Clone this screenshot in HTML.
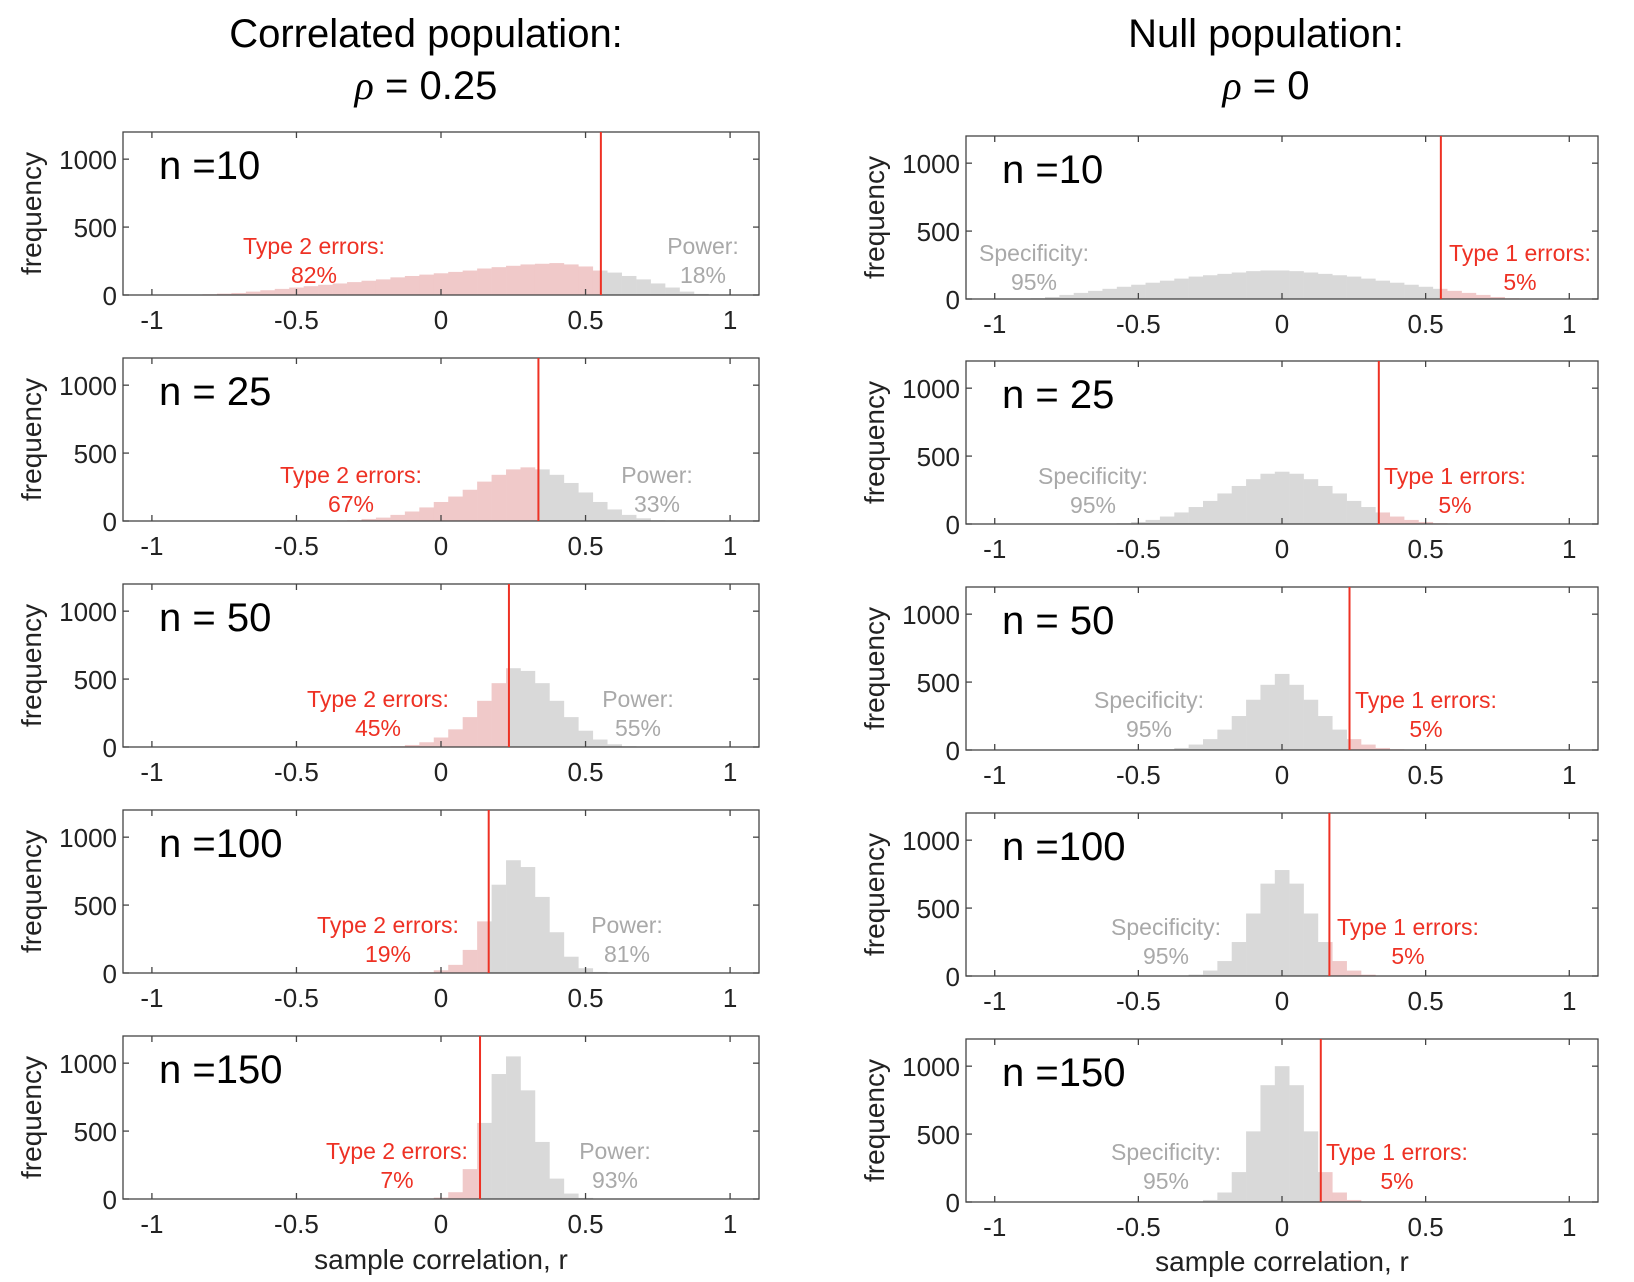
<!DOCTYPE html>
<html><head><meta charset="utf-8">
<style>
html,body{margin:0;padding:0;background:#fff;}
svg{display:block;font-family:"Liberation Sans",sans-serif;}
</style></head>
<body>
<svg id="fig" width="1634" height="1282" viewBox="0 0 1634 1282" xmlns="http://www.w3.org/2000/svg">
<text x="426" y="47" font-size="40" text-anchor="middle">Correlated population:</text>
<text x="426" y="99" font-size="40" text-anchor="middle"><tspan font-family="Liberation Serif" font-style="italic">ρ</tspan> = 0.25</text>
<text x="1266" y="47" font-size="40" text-anchor="middle">Null population:</text>
<text x="1266" y="99" font-size="40" text-anchor="middle"><tspan font-family="Liberation Serif" font-style="italic">ρ</tspan> = 0</text>
</svg>
<script>
// ---- data ----
const binWidth = 0.05;
const xTicks = [-1, -0.5, 0, 0.5, 1];
const xTickLabels = ["-1", "-0.5", "0", "0.5", "1"];
const yTicks = [0, 500, 1000];
const yTickLabels = ["0", "500", "1000"];
const sampleSizes = [10, 25, 50, 100, 150];
const panelLabels = ["n =10", "n = 25", "n = 50", "n =100", "n =150"];
const critValues = [0.553, 0.337, 0.235, 0.165, 0.135];
const powerPct = ["18%", "33%", "55%", "81%", "93%"];
const type2Pct = ["82%", "67%", "45%", "19%", "7%"];
const specPct = ["95%", "95%", "95%", "95%", "95%"];
const type1Pct = ["5%", "5%", "5%", "5%", "5%"];

// correlated population (rho = 0.25): bin start centres and counts
const corrStart = [-0.8, -0.3, -0.15, -0.05, 0];
const corrN10 = [5,10,15,25,35,45,55,65,75,85,95,105,115,130,140,150,160,170,180,195,205,215,225,230,235,225,210,180,165,140,115,85,55,25,8,2];
const corrN25 = [5,15,25,45,70,100,140,180,230,290,340,380,395,380,340,280,210,140,85,45,20,5];
const corrN50 = [5,15,35,70,130,220,340,470,580,560,470,340,220,120,55,20,5];
const corrN100 = [5,20,60,170,380,650,830,780,560,300,120,35,8];
const corrN150 = [10,50,220,560,920,1050,800,420,150,40,8];

// null population (rho = 0)
const nullStart = [-0.85, -0.55, -0.4, -0.3, -0.25];
const nullN10 = [5,15,30,45,60,75,90,105,120,135,150,165,175,185,195,205,210,210,205,195,185,175,165,150,135,120,105,90,75,60,45,30,15,5];
const nullN25 = [5,15,30,55,85,125,170,225,280,330,370,385,370,330,280,225,170,125,85,55,30,15,5];
const nullN50 = [5,15,40,80,150,250,370,480,560,480,370,250,150,80,40,15,5];
const nullN100 = [10,40,110,250,460,680,780,680,460,250,110,40,10];
const nullN150 = [15,70,220,520,860,1000,860,520,220,70,15];

const corrCounts = [corrN10, corrN25, corrN50, corrN100, corrN150];
const nullCounts = [nullN10, nullN25, nullN50, nullN100, nullN150];

// ---- layout ----
const NS = "http://www.w3.org/2000/svg";
const svg = document.getElementById("fig");
const PINK = "#f0c9c9", GRAY = "#d9d9d9", RED = "#ee3124", GTXT = "#a9a9a9";
const leftCol = {x0: 123, x1: 759, tops: [132, 358, 584, 810, 1036]};
const rightCol = {x0: 966, x1: 1598, tops: [136, 361, 587, 813, 1039]};
const PH = 163, XMIN = -1.1, XMAX = 1.1, YMAX = 1200;
const leftLab = [[314, 246, 703], [351, 475, 657], [378, 699, 638], [388, 925, 627], [397, 1151, 615]];
const rightLab = [[1034, 253, 1520], [1093, 476, 1455], [1149, 700, 1426], [1166, 927, 1408], [1166, 1152, 1397]];

function mk(tag, attrs, parent) {
  const e = document.createElementNS(NS, tag);
  for (const k in attrs) e.setAttribute(k, attrs[k]);
  (parent || svg).appendChild(e);
  return e;
}
function txt(str, attrs, parent) { const t = mk("text", attrs, parent); t.textContent = str; return t; }

function panel(col, i, counts, start, isNull) {
  const top = col.tops[i], bot = top + PH;
  const xs = v => col.x0 + (v - XMIN) / (XMAX - XMIN) * (col.x1 - col.x0);
  const ys = v => bot - v / YMAX * PH;
  const g = mk("g", {});
  
  
  const crit = critValues[i];
  const loColor = isNull ? GRAY : PINK, hiColor = isNull ? PINK : GRAY;
  counts.forEach((c, k) => {
    const ctr = start[i] + k * binWidth;
    const a = ctr - binWidth / 2, b = ctr + binWidth / 2;
    const segs = [];
    if (b <= crit) segs.push([a, b, loColor]);
    else if (a >= crit) segs.push([a, b, hiColor]);
    else { segs.push([a, crit, loColor]); segs.push([crit, b, hiColor]); }
    segs.forEach(s => {
      const r = mk("rect", {x: xs(s[0]), y: ys(c), width: Math.max(0, xs(s[1]) - xs(s[0]) + 0.3), height: bot - ys(c), fill: s[2]}, g);
      
      
    });
  });
  const fr = mk("rect", {x: col.x0, y: top, width: col.x1 - col.x0, height: PH, fill: "none", stroke: "#444", "stroke-width": 1.3}, g);
  
  
  xTicks.forEach((v, k) => {
    mk("line", {x1: xs(v), x2: xs(v), y1: bot, y2: bot - 6, stroke: "#444", "stroke-width": 1.3}, g);
    mk("line", {x1: xs(v), x2: xs(v), y1: top, y2: top + 6, stroke: "#444", "stroke-width": 1.3}, g);
    const t = txt(xTickLabels[k], {x: xs(v), y: bot + 34, "font-size": 26, "text-anchor": "middle", fill: "#222"}, g);
    
    
  });
  yTicks.forEach((v, k) => {
    mk("line", {x1: col.x0, x2: col.x0 + 6, y1: ys(v), y2: ys(v), stroke: "#444", "stroke-width": 1.3}, g);
    mk("line", {x1: col.x1, x2: col.x1 - 6, y1: ys(v), y2: ys(v), stroke: "#444", "stroke-width": 1.3}, g);
    const t = txt(yTickLabels[k], {x: col.x0 - 6, y: ys(v) + 10, "font-size": 26, "text-anchor": "end", fill: "#222"}, g);
    
    
  });
  const cl = mk("line", {x1: xs(crit), x2: xs(crit), y1: top, y2: bot, stroke: RED, "stroke-width": 2}, g);
  
  
  const yl = txt("frequency", {transform: `translate(${col.x0 - 82},${top + PH / 2}) rotate(-90)`, "font-size": 28, "text-anchor": "middle", fill: "#222"}, g);
  
  
  const pl = txt(panelLabels[i], {x: col.x0 + 36, y: top + 47, "font-size": 40, fill: "#000"}, g);
  
  
  const L = isNull ? rightLab[i] : leftLab[i];
  const lowTitle = isNull ? "Specificity:" : "Type 2 errors:";
  const lowPct = isNull ? specPct[i] : type2Pct[i];
  const hiTitle = isNull ? "Type 1 errors:" : "Power:";
  const hiPct = isNull ? type1Pct[i] : powerPct[i];
  const lowC = isNull ? GTXT : RED, hiC = isNull ? RED : GTXT;
  [[lowTitle, L[0], L[1], lowC, 'low-region-label'], [lowPct, L[0], L[1] + 29, lowC, 'low-region-percent'],
   [hiTitle, L[2], L[1], hiC, 'high-region-label'], [hiPct, L[2], L[1] + 29, hiC, 'high-region-percent']].forEach(a => {
    const t = txt(a[0], {x: a[1], y: a[2] + 8, "font-size": 23, "text-anchor": "middle", fill: a[3]}, g);
    
    
  });
}
for (let i = 0; i < 5; i++) {
  panel(leftCol, i, corrCounts[i], corrStart, false);
  panel(rightCol, i, nullCounts[i], nullStart, true);
}
const xl1 = txt("sample correlation, r", {x: 441, y: 1269, "font-size": 28, "text-anchor": "middle", fill: "#222"});


const xl2 = txt("sample correlation, r", {x: 1282, y: 1271, "font-size": 28, "text-anchor": "middle", fill: "#222"});


</script>
</body></html>
